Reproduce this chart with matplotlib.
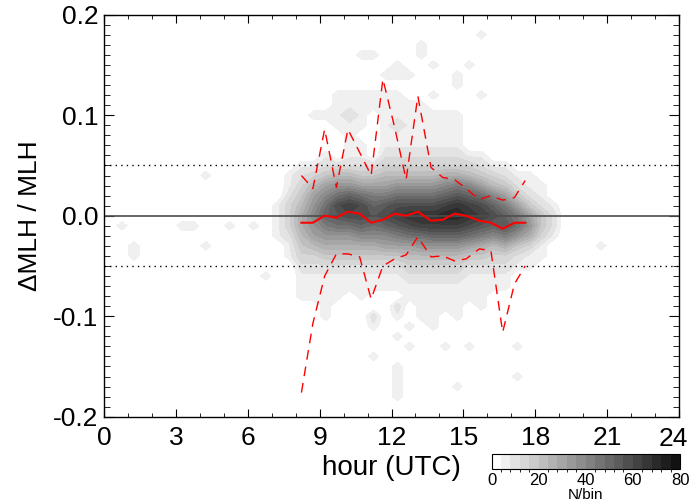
import numpy as np
import matplotlib
matplotlib.use('Agg')
import matplotlib.pyplot as plt
from matplotlib.colors import ListedColormap, BoundaryNorm
from matplotlib.ticker import MultipleLocator, FormatStrFormatter

plt.rcParams['font.family'] = ['Liberation Sans', 'DejaVu Sans']
plt.rcParams['axes.unicode_minus'] = False

# statistics per half-hour bin
hours = [8.24, 8.72, 9.21, 9.70, 10.18, 10.67, 11.15, 11.64, 12.13, 12.61,
         13.10, 13.65, 14.14, 14.63, 15.11, 15.67, 16.15, 16.64, 17.13, 17.58]
median = [-0.007, -0.007, 0.000, -0.002, 0.004, 0.002, -0.007, -0.004, 0.002, 0.000,
          0.004, -0.005, -0.004, 0.002, 0.000, -0.005, -0.007, -0.013, -0.007, -0.007]
upper = [0.040, 0.027, 0.086, 0.028, 0.086, 0.063, 0.040, 0.136, 0.088, 0.036,
         0.119, 0.048, 0.038, 0.036, 0.027, 0.016, 0.020, 0.0155, 0.018, 0.035]
lower = [-0.176, -0.107, -0.060, -0.038, -0.038, -0.041, -0.083, -0.050, -0.043, -0.039,
         -0.021, -0.041, -0.040, -0.045, -0.043, -0.033, -0.035, -0.116, -0.068, -0.050]

# 2d histogram, one string per half-hour column (6.25 h ... 19.25 h),
# rows from +0.20 down to -0.20 in steps of 0.01
# '.' = empty, 1-9 then a-j = contour band (4 counts per band)
hist_x0 = 6.25
hist_cols = [
    ".......... .......... .1........ ...........",
    ".......... .......... ......1... ...........",
    ".......... .........1 111....... ...........",
    ".......... ......1123 33211..... ...........",
    ".......... .....12345 665432111. ...........",
    ".......... 1....13578 987532111. ...........",
    ".......... 1...12479b ca86421111 1..........",
    "........11 11...258be db8642111. ...........",
    "........11 21111258cf eb864211.. ...........",
    "....1...11 11.11247be ec9642111. ...........",
    "....1...11 .....247ac db964211.. 21..1......",
    "......1.11 11112357ad ec974211.. ...........",
    ".....11.11 12112358be fda74211.2 1.1..1111..",
    "......1..1 11112358be geb753211. .1.1.......",
    "...11....1 11112358be gfb8532111 1..........",
    ".....1..1. 11112358be gfc8532111 11.........",
    ".......... 11112369cf hfc8532111 ...1.......",
    "......11.. 1111236adg hfc8532111 1......1...",
    ".....1.... ....1359cf geb742111. ...1.......",
    "..1.....1. ....1247be fda6421111 ...........",
    ".......... .....1359c ec953211.. ...........",
    ".......... .....1247a cda63211.. ...........",
    ".......... ......1247 ab8421.... ...1..1....",
    ".......... ......1124 786311.... ...........",
    ".......... .......112 44311..... ...........",
    ".......... .........1 221....... ...........",
    ".......... .......... .......... ...........",
]
# isolated cells outside that block
far_x = [0.75, 1.25, 1.25, 3.25, 3.75, 4.25, 4.25, 5.25, 20.75]
far_y = [-0.01, -0.03, -0.04, -0.01, -0.01, -0.03, 0.04, -0.01, -0.03]
far_k = [1, 1, 1, 1, 1, 1, 1, 1, 1]

levels = list(range(0, 84, 4))
cbar_ticks = [0, 20, 40, 60, 80]
hour_ticks = list(range(0, 25, 3))


def band(ch):
    if ch == '.':
        return 0
    if ch.isdigit():
        return int(ch)
    return 10 + ord(ch) - ord('a')


xc = np.arange(0.25, 24.0, 0.5)
yc = np.round(np.arange(0.20, -0.2001, -0.01), 2)
k = np.zeros((len(yc), len(xc)))
i0 = int(round((hist_x0 - xc[0]) / 0.5))
for j, col in enumerate(hist_cols):
    for i, ch in enumerate(col.replace(' ', '')):
        k[i, i0 + j] = band(ch)
for x, y, b in zip(far_x, far_y, far_k):
    k[np.argmin(abs(yc - y)), np.argmin(abs(xc - x))] = b
counts = np.where(k > 0, 4 * k + 3, 0)

fig = plt.figure(figsize=(6.9, 5.03), dpi=100)
ax = fig.add_axes([104 / 690, 1 - 416.7 / 503, 575 / 690, 402 / 503])

grays = [1.0] + [0.94 - (i - 1) * 0.87 / 18 for i in range(1, 20)]
cmap = ListedColormap([(g, g, g) for g in grays])
norm = BoundaryNorm(levels, cmap.N)
cs = ax.contourf(xc, yc[::-1], counts[::-1], levels=levels, cmap=cmap, norm=norm)

ax.axhline(0, color='0.3', lw=1.2)
ax.axhline(0.05, color='k', lw=1, ls=(0, (1, 3)))
ax.axhline(-0.05, color='k', lw=1, ls=(0, (1, 3)))
ax.plot(hours, upper, color='red', lw=1, dashes=(7, 5))
ax.plot(hours, lower, color='red', lw=1, dashes=(7, 5))
ax.plot(hours, median, color='red', lw=1.5)

ax.set_xlim(0, 24)
ax.set_ylim(-0.2, 0.2)
ax.set_xticks(hour_ticks)
# last label is pulled inside the figure, as in the original
ax.set_xticklabels([str(h) for h in hour_ticks[:-1]] + [''])
ax.xaxis.set_minor_locator(MultipleLocator(1))
ax.yaxis.set_major_locator(MultipleLocator(0.1))
ax.yaxis.set_minor_locator(MultipleLocator(0.01))
ax.yaxis.set_major_formatter(FormatStrFormatter('%.1f'))
ax.tick_params(which='both', direction='in', top=True, right=True, labelsize=19)
ax.tick_params(axis='x', which='major', length=6, pad=7)
ax.tick_params(axis='x', which='minor', length=3)
ax.tick_params(axis='y', which='major', length=7.5, pad=4)
ax.tick_params(axis='y', which='minor', length=4)
for s in ax.spines.values():
    s.set_linewidth(1)
fig.text(688 / 690, 1 - 427 / 503, str(hour_ticks[-1]), ha='right', va='top', fontsize=19)

ax.set_xlabel('hour (UTC)', fontsize=20)
ax.xaxis.set_label_coords(0.5, -0.095)
ax.set_ylabel('\u0394MLH / MLH', fontsize=19)
ax.yaxis.set_label_coords(-0.108, 0.5)

cax = fig.add_axes([491.5 / 690, 1 - 469 / 503, 188.5 / 690, 15 / 503])
cb = fig.colorbar(cs, cax=cax, orientation='horizontal', ticks=cbar_ticks)
cb.ax.tick_params(labelsize=12, length=0, pad=3)
cb.set_label('N/bin', fontsize=11, labelpad=0)
cb.outline.set_linewidth(0.8)

fig.savefig('out.png', dpi=100)
